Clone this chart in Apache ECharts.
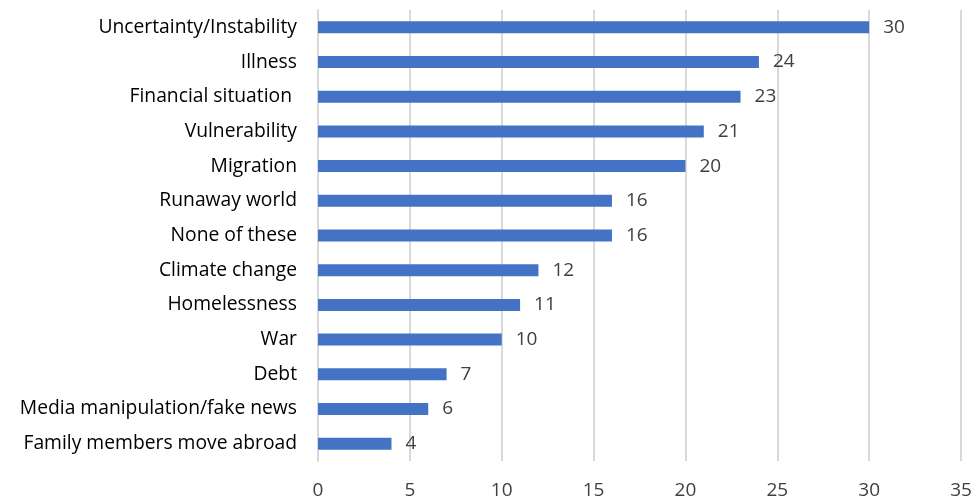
<!DOCTYPE html>
<html><head><meta charset="utf-8">
<script src="https://cdn.jsdelivr.net/npm/echarts@6/dist/echarts.min.js"></script>
<style>html,body{margin:0;padding:0;background:#fff}#c{width:977px;height:500px}</style>
</head><body><div id="c"></div>
<script>
const categories = ["Uncertainty/Instability","Illness","Financial situation ","Vulnerability","Migration","Runaway world","None of these","Climate change","Homelessness","War","Debt","Media manipulation/fake news","Family members move abroad"];
const values = [30,24,23,21,20,16,16,12,11,10,7,6,4];
const xTicks = {min:0,max:35,interval:5};
const chart = echarts.init(document.getElementById('c'));
chart.setOption({
  animation:false,
  grid:{left:318,right:16,top:10,bottom:39,containLabel:false},
  xAxis:{type:'value',min:xTicks.min,max:xTicks.max,interval:xTicks.interval,
    axisLine:{show:false},axisTick:{show:false},
    axisLabel:{color:'#404040',fontSize:19,fontFamily:'Open Sans',margin:20},
    splitLine:{lineStyle:{color:'#d9d9d9',width:2}}},
  yAxis:{type:'category',data:categories,inverse:true,
    axisLine:{lineStyle:{color:'#d9d9d9',width:2}},axisTick:{show:false},
    axisLabel:{color:'#000',fontSize:19.3,fontFamily:'Open Sans',margin:21,padding:[2,0,0,0]}},
  series:[{type:'bar',data:values,barWidth:12,itemStyle:{color:'#4472C4'},
    label:{show:true,position:'right',distance:14,color:'#404040',fontSize:19,fontFamily:'Open Sans',padding:[3,0,0,0]}}]
});
</script></body></html>
